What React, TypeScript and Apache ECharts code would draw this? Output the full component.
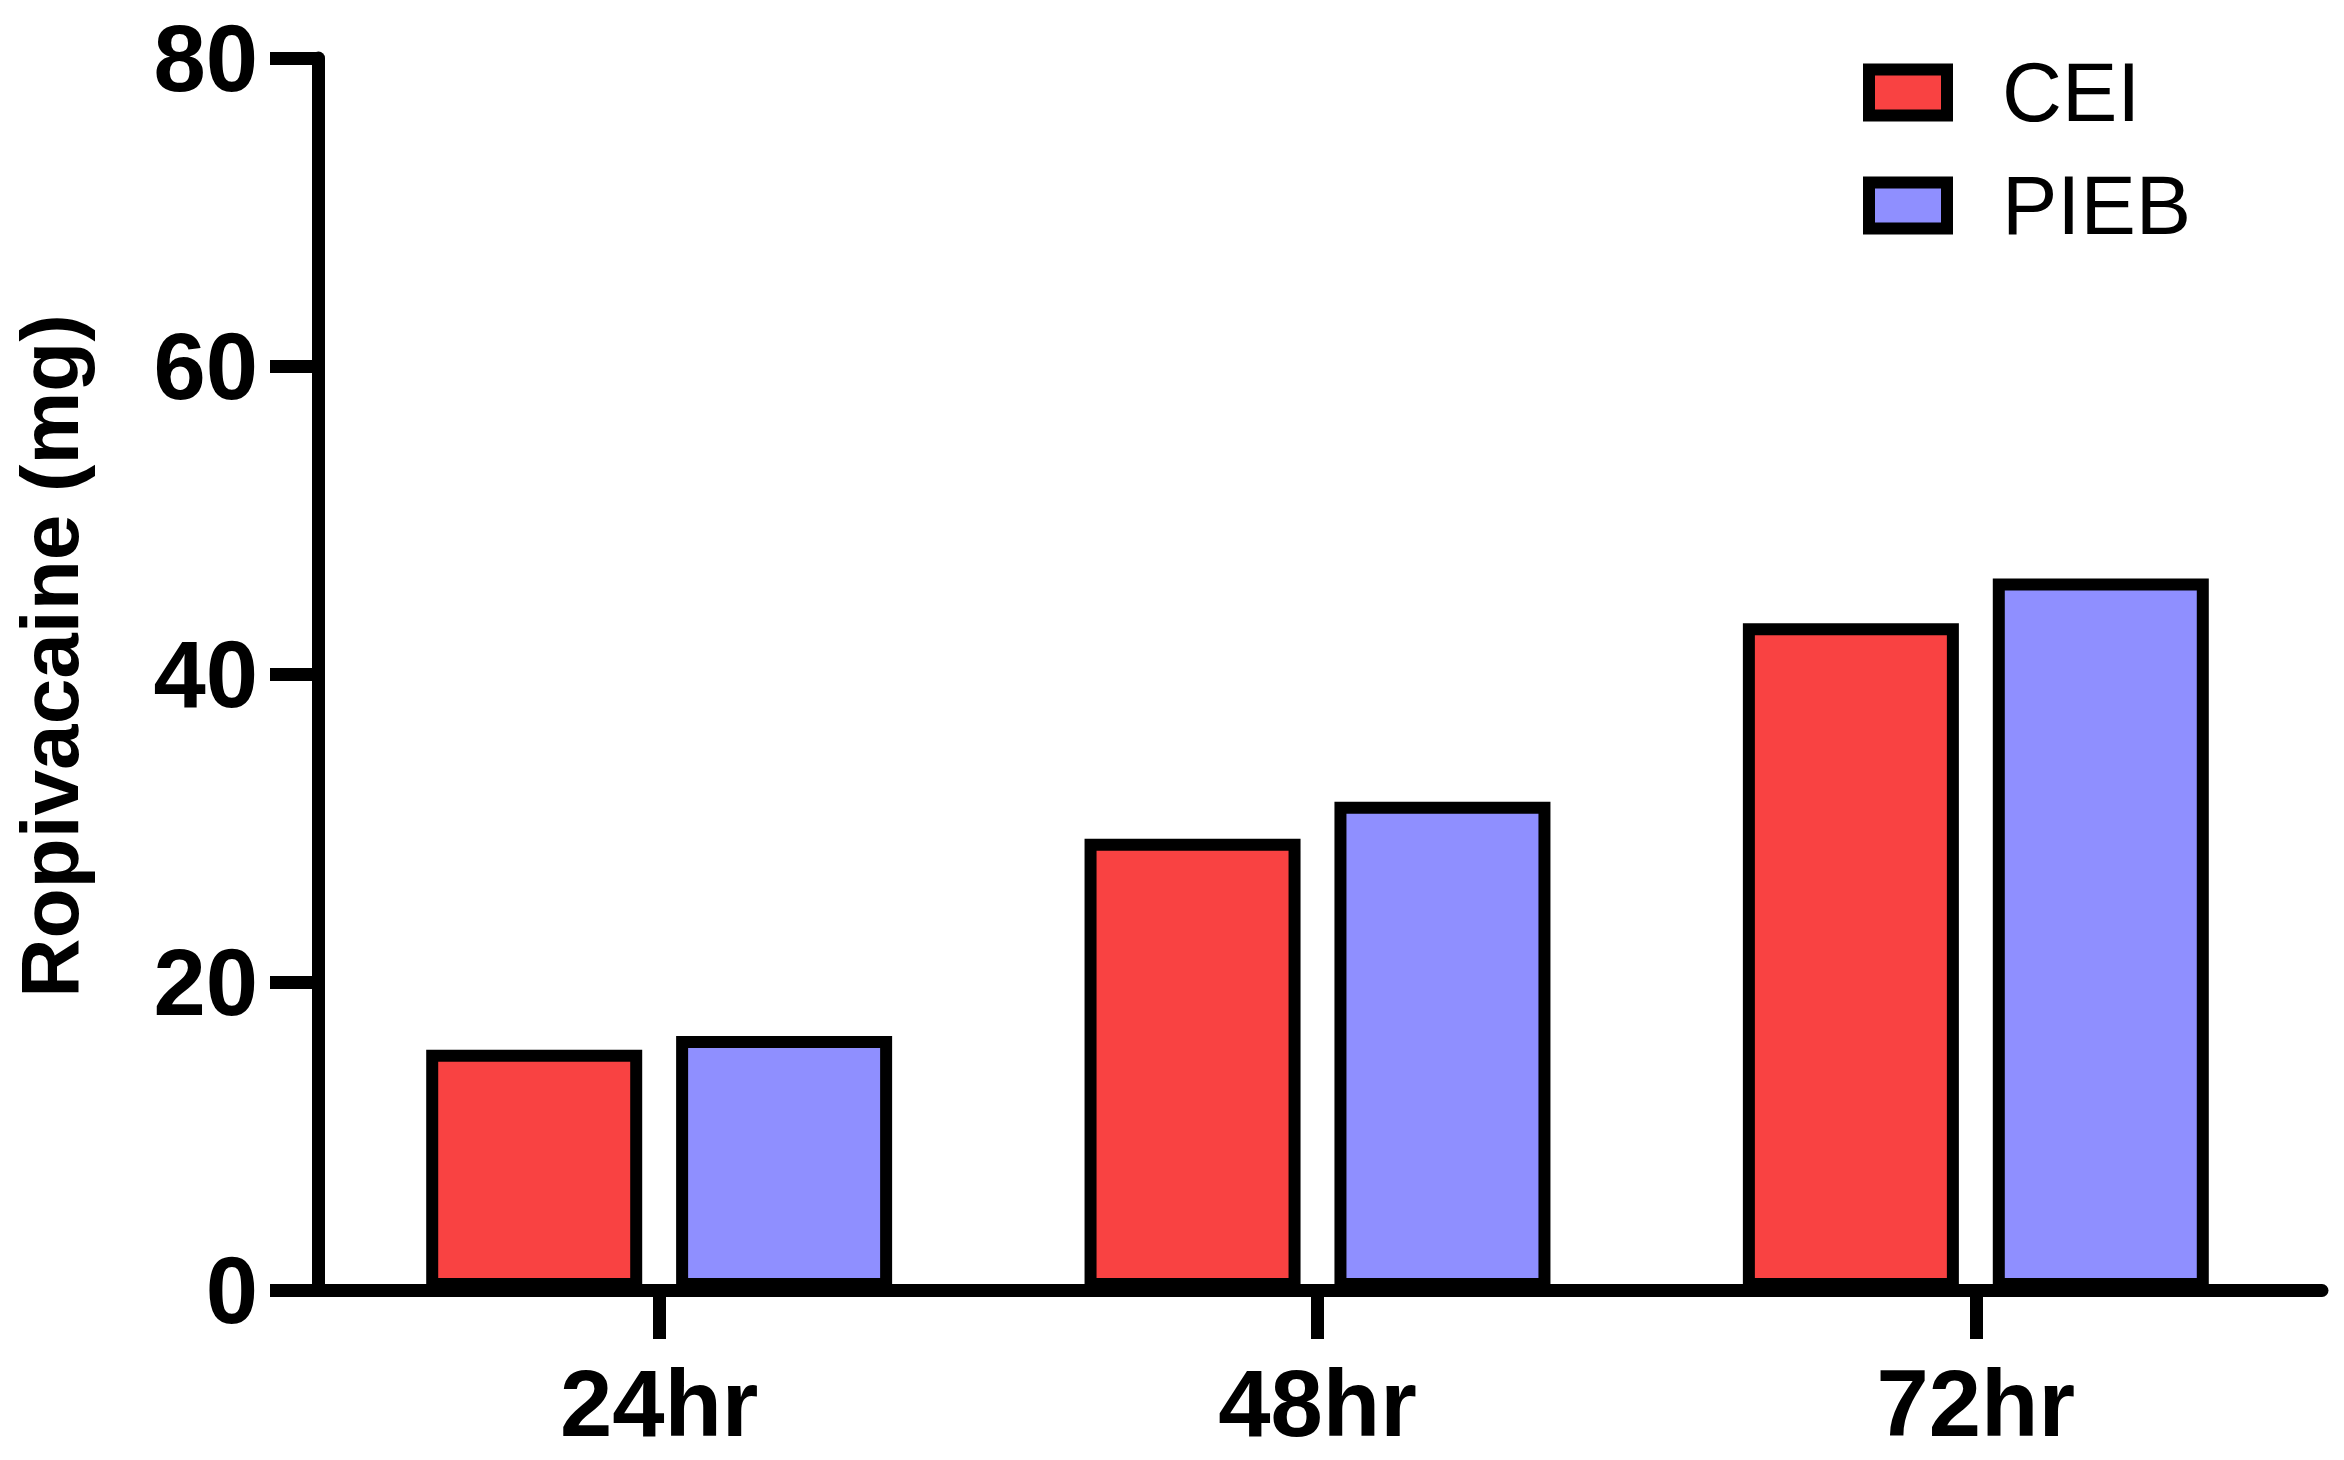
import React, { useEffect, useRef } from "react";
import * as echarts from "echarts";

const categories = ["24hr", "48hr", "72hr"];
const ceiValues = [15.6, 29.3, 43.3];
const piebValues = [16.5, 31.7, 46.2];
const yTicks = { min: 0, max: 80, interval: 20 };
const seriesNames = ["CEI", "PIEB"];

const FONT = "'Liberation Sans', Arial, Helvetica, sans-serif";

export default function App() {
  const ref = useRef<HTMLDivElement>(null);
  useEffect(() => {
    if (!ref.current) return;
    const chart = echarts.init(ref.current, undefined, { renderer: "svg" });
    const axisLineStyle = { color: "#000", width: 13 };
    const option = {
      animation: false,
      backgroundColor: "#fff",
      grid: [
        { left: 318, top: 58, width: 2004, height: 1232, containLabel: false },
        { left: 330, top: 58, width: 1975, height: 1232, containLabel: false },
      ],
      legend: {
        orient: "vertical",
        left: 1858,
        top: 46,
        itemWidth: 78,
        itemHeight: 46,
        itemGap: 30,
        icon: "rect",
        data: seriesNames,
        itemStyle: { borderColor: "#000", borderWidth: 12 },
        textStyle: {
          fontFamily: FONT,
          fontSize: 83,
          color: "#000",
          lineHeight: 58,
          padding: [0, 0, 0, 50],
        },
      },
      xAxis: [
        {
          gridIndex: 0,
          type: "value",
          min: 0,
          max: 1,
          axisLine: { show: true, lineStyle: axisLineStyle },
          axisTick: { show: false },
          axisLabel: { show: false },
          splitLine: { show: false },
        },
        {
          gridIndex: 1,
          type: "category",
          data: categories,
          axisLine: { show: false },
          axisTick: {
            show: true,
            alignWithLabel: true,
            length: 49,
            lineStyle: { color: "#000", width: 13 },
          },
          axisLabel: {
            margin: 66,
            fontFamily: FONT,
            fontSize: 94,
            fontWeight: "bold",
            color: "#000",
          },
          splitLine: { show: false },
        },
      ],
      yAxis: [
        {
          gridIndex: 0,
          type: "value",
          min: yTicks.min,
          max: yTicks.max,
          interval: yTicks.interval,
          name: "Ropivacaine (mg)",
          nameLocation: "middle",
          nameGap: 228,
          nameTextStyle: {
            fontFamily: FONT,
            fontSize: 82,
            fontWeight: "bold",
            color: "#000",
            padding: [0, 0, 0, 36],
          },
          axisLine: { show: true, lineStyle: axisLineStyle },
          axisTick: {
            show: true,
            length: 48,
            lineStyle: { color: "#000", width: 13 },
          },
          axisLabel: {
            margin: 60,
            fontFamily: FONT,
            fontSize: 94,
            fontWeight: "bold",
            color: "#000",
          },
          splitLine: { show: false },
        },
        {
          gridIndex: 1,
          type: "value",
          min: yTicks.min,
          max: yTicks.max,
          interval: yTicks.interval,
          show: false,
          splitLine: { show: false },
        },
      ],
      series: [
        {
          name: seriesNames[0],
          type: "bar",
          xAxisIndex: 1,
          yAxisIndex: 1,
          data: ceiValues,
          barWidth: 216,
          barGap: "15.7%",
          itemStyle: { color: "#F94242", borderColor: "#000", borderWidth: 12 },
        },
        {
          name: seriesNames[1],
          type: "bar",
          xAxisIndex: 1,
          yAxisIndex: 1,
          data: piebValues,
          barWidth: 216,
          barGap: "15.7%",
          itemStyle: { color: "#8F8FFF", borderColor: "#000", borderWidth: 12 },
        },
      ],
    };
    chart.setOption(option as any);
    return () => chart.dispose();
  }, []);
  return (
    <div
      ref={ref}
      style={{ position: "absolute", left: 0, top: 0, width: 2344, height: 1460 }}
    />
  );
}
